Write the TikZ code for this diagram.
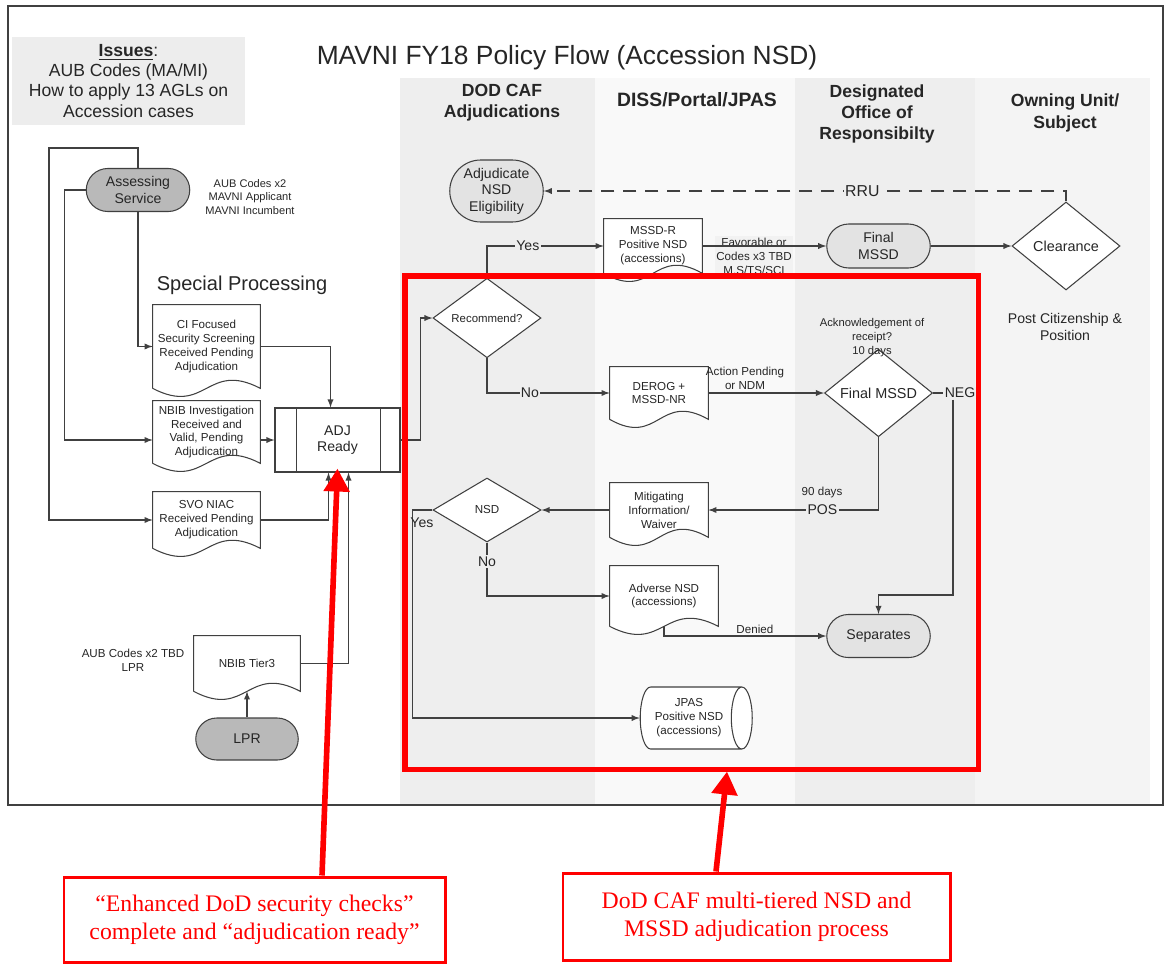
\documentclass[tikz,border=0pt]{standalone}
\usepackage{fontspec}
\setmainfont{Liberation Sans}
\newfontfamily\timesfont{Liberation Serif}
\usetikzlibrary{shapes.geometric,shapes.misc,arrows.meta,calc}
\pgfdeclarelayer{back}
\pgfsetlayers{back,main}

\newcommand{\fsz}[2]{\fontsize{#1}{#2}\selectfont}
% document outline (wavy bottom) behind a named node
\newcommand{\docframe}[1]{%
  \begin{pgfonlayer}{back}
    \filldraw[flow, fill=white] (#1.south west) -- (#1.north west) -- (#1.north east) -- (#1.south east)
      .. controls ($(#1.south)+(0,-28)$) and ($(#1.south)+(0,28)$) .. (#1.south west);
  \end{pgfonlayer}}

\begin{document}
\begin{tikzpicture}[x=0.2mm, y=-0.2mm, >=latex,
    flow/.style={draw=black!75, line width=0.6pt},
    txt/.style={text=black!85, align=center, inner sep=1pt},
    small/.style={txt, font=\fsz{6.6}{7.9}},
    hdr/.style={txt, font=\bfseries\fsz{10}{12}},
    lbl/.style={txt, font=\fsz{8}{9.6}, inner sep=0.8pt},
    term/.style={rounded rectangle, flow, txt, font=\fsz{8}{9.4}, minimum width=21.4mm, minimum height=8.6mm},
    dark/.style={term, fill=gray!55},
    light/.style={term, fill=gray!22},
    decision/.style={diamond, flow, fill=white, txt, minimum width=21.6mm, minimum height=12.8mm, inner sep=0pt},
    redbox/.style={draw=red, line width=1.7pt, fill=white, text=red, align=center, font=\timesfont\fsz{13.5}{16}},
    redarrow/.style={draw=red, line width=3.2pt, -{Triangle[width=5mm,length=4.6mm]}}
  ]
  \useasboundingbox (0,0) rectangle (1165,964);

  % 1. Swim lanes and frame
  \begin{pgfonlayer}{back}
    \fill[gray!13] (400,78) rectangle (595,805);
    \fill[gray!5] (595,78) rectangle (795,805);
    \fill[gray!13] (795,78) rectangle (975,805);
    \fill[gray!9] (975,78) rectangle (1150,805);
  \end{pgfonlayer}
  \draw[black!75, line width=0.8pt] (8,6) rectangle (1163,805);

  \node[fill=gray!14, txt, minimum width=46.6mm, minimum height=17.6mm, font=\fsz{10}{11.4}] (issues) at (128.5,81)
    {\underline{\textbf{Issues}}:\\AUB Codes (MA/MI)\\How to apply 13 AGLs on\\Accession cases};
  \node[txt, font=\fsz{15}{18}] (title) at (567,58) {MAVNI FY18 Policy Flow (Accession NSD)};
  \node[hdr] (h1) at (502,103) {DOD CAF\\Adjudications};
  \node[hdr, font=\bfseries\fsz{11}{13}] (h2) at (697,100) {DISS/Portal/JPAS};
  \node[hdr] (h3) at (877,114) {Designated\\Office of\\Responsibilty};
  \node[hdr] (h4) at (1065,113) {Owning Unit/\\Subject};

  % 2. Special processing (left)
  \node[dark] (as) at (138,190) {Assessing\\Service};
  \node[small, font=\fsz{6.3}{7.7}] (asnote) at (250,197) {AUB Codes x2\\MAVNI Applicant\\MAVNI Incumbent};
  \node[txt, font=\fsz{11.4}{13}] (sp) at (242,285) {Special Processing};

  \node[small, minimum width=21.4mm, minimum height=16.6mm] (ci) at (206.5,346.5)
    {CI Focused\\Security Screening\\Received Pending\\Adjudication};
  \docframe{ci}
  \node[small, minimum width=21.4mm, minimum height=12.4mm] (nbib) at (206.5,432)
    {NBIB Investigation\\Received and\\Valid, Pending\\Adjudication};
  \docframe{nbib}
  \node[small, minimum width=21.4mm, minimum height=11.2mm] (svo) at (206.5,520)
    {SVO NIAC\\Received Pending\\Adjudication};
  \docframe{svo}

  \node[flow, fill=white, txt, font=\fsz{8}{9.4}, minimum width=25mm, minimum height=12.8mm] (adj) at (337.5,440) {ADJ\\Ready};
  \draw[flow] ([xshift=4.4mm]adj.north west) -- ([xshift=4.4mm]adj.south west);
  \draw[flow] ([xshift=-4mm]adj.north east) -- ([xshift=-4mm]adj.south east);

  \node[small, minimum width=21.2mm, minimum height=11mm] (t3) at (247,663.5) {NBIB Tier3};
  \docframe{t3}
  \node[small] (t3note) at (133,660) {AUB Codes x2 TBD\\LPR};
  \node[dark, minimum width=21.2mm, minimum height=8.4mm] (lpr) at (247,739) {LPR};

  \coordinate (loopTop) at (49,148);
  \draw[flow, ->] (as.south) |- (ci.west);
  \draw[flow, ->] (as.west) -| ([xshift=-17.6mm]nbib.west |- adj.west) -- (nbib.west |- adj.west);
  \draw[flow, ->] (as.north) |- (loopTop) |- (svo.west);
  \draw[flow, ->] (ci.east) -| ([xshift=-1.4mm]adj.north);
  \draw[flow, ->] (nbib.east |- adj.west) -- (adj.west);
  \draw[flow, ->] (svo.east) -| ([xshift=-1.8mm]adj.south);
  \draw[flow, ->] (t3.east) -| ([xshift=2.2mm]adj.south);
  \draw[flow, ->] (lpr.north) -- (t3.south);

  % 3. DOD CAF / DISS lanes
  \node[light, minimum width=19.4mm, minimum height=12.4mm] (adjn) at (496.5,191) {Adjudicate\\NSD\\Eligibility};
  \node[decision, font=\fsz{6.5}{8}, minimum height=12.4mm] (rec) at (487,318) {Recommend?};
  \node[decision, font=\fsz{6.6}{8}] (nsd) at (487,510) {NSD};

  \node[small, minimum width=19.6mm, minimum height=10.8mm] (mssdr) at (653,246) {MSSD-R\\Positive NSD\\(accessions)};
  \docframe{mssdr}
  \node[small, minimum width=19.6mm, minimum height=10.4mm] (derog) at (659,393) {DEROG +\\MSSD-NR};
  \docframe{derog}
  \node[small, minimum width=19.6mm, minimum height=10.8mm] (mit) at (659,510) {Mitigating\\Information/\\Waiver};
  \docframe{mit}
  \node[small, minimum width=21.6mm, minimum height=12mm] (adv) at (664,596) {Adverse NSD\\(accessions)};
  \docframe{adv}
  \node[cylinder, flow, fill=white, small, shape aspect=0.5, minimum width=12.4mm, minimum height=22.4mm] (jpas) at (689,718)
    {JPAS\\Positive NSD\\(accessions)};

  % 4. Designated office / owning unit
  \node[light, minimum height=8.8mm] (ft) at (878.5,246) {Final\\MSSD};
  \node[decision, font=\fsz{8.2}{9}] (fm) at (878.5,393) {Final MSSD};
  \node[light] (sep) at (878.5,636) {Separates};
  \node[small, font=\fsz{6.4}{8}] (ack) at (872,338) {Acknowledgement of\\receipt?\\10 days};
  \node[decision, font=\fsz{8.2}{9}, minimum height=17.6mm] (cl) at (1066,246) {Clearance};
  \node[txt, font=\fsz{8}{10.2}] (post) at (1065,327) {Post Citizenship \&\\Position};

  \node[small, fill=gray!10] (fav) at (754,257) {Favorable or\\Codes x3 TBD\\M,S/TS/SCI};
  \node[small] (act) at (745,378) {Action Pending\\or NDM};
  \node[small] (days) at (822,492) {90 days};
  \node[lbl, fill=gray!13] (neg) at (960,393) {NEG};

  \draw[flow, ->] (adj.east) -- ++(4mm,0) |- (rec.west);
  \draw[flow, ->] (rec.north) |- (mssdr.west) node[lbl, fill=gray!13, pos=0.675] {Yes};
  \draw[flow, ->] (rec.south) |- (derog.west) node[lbl, fill=gray!13, pos=0.675] {No};
  \draw[flow, ->] (mssdr.east) -- (ft.west);
  \draw[flow, ->] (ft.east) -- (cl.west);
  \draw[flow, dash pattern=on 2.6mm off 1.8mm, ->] (cl.north) |- (adjn.east)
    node[lbl, font=\fsz{9}{10}, fill=gray!13, pos=0.695] {RRU};
  \draw[flow, ->] (derog.east) -- (fm.west);
  \draw[flow] (fm.east) -- (neg.west);
  \draw[flow, ->] ([xshift=-1.4mm]neg.south) |- ([yshift=3.8mm]sep.north) -- (sep.north);
  \draw[flow, ->] (fm.south) |- (mit.east) node[lbl, fill=gray!13, pos=0.665] {POS};
  \draw[flow, ->] (mit.west) -- (nsd.east);
  \draw[flow, ->] (nsd.west) -- ++(-4mm,0)
    node[lbl, anchor=north west, pos=1, xshift=-0.8mm, yshift=-1.2mm] {Yes} |- (jpas.west);
  \draw[flow, ->] (nsd.south) |- (adv.west) node[lbl, fill=gray!13, pos=0.18] {No};
  \draw[flow, ->] (adv.south) |- (sep.west) node[small, above, pos=0.78] {Denied};

  % 5. Red call-outs
  \node[draw=red, line width=2.85pt, minimum width=114.6mm, minimum height=98.6mm] (caf) at (691.5,522.5) {};
  \node[redbox, minimum width=76.2mm, minimum height=17mm] (rb1) at (254.5,919.5)
    {“Enhanced DoD security checks”\\complete and “adjudication ready”};
  \node[redbox, minimum width=77.4mm, minimum height=17.4mm] (rb2) at (756.5,916.5)
    {DoD CAF multi-tiered NSD and\\MSSD adjudication process};
  \draw[redarrow] ([xshift=13.5mm]rb1.north) -- ([yshift=0.8mm]adj.south);
  \draw[redarrow] ([xshift=-8.1mm]rb2.north) -- ([xshift=7.1mm]caf.south);
\end{tikzpicture}
\end{document}
